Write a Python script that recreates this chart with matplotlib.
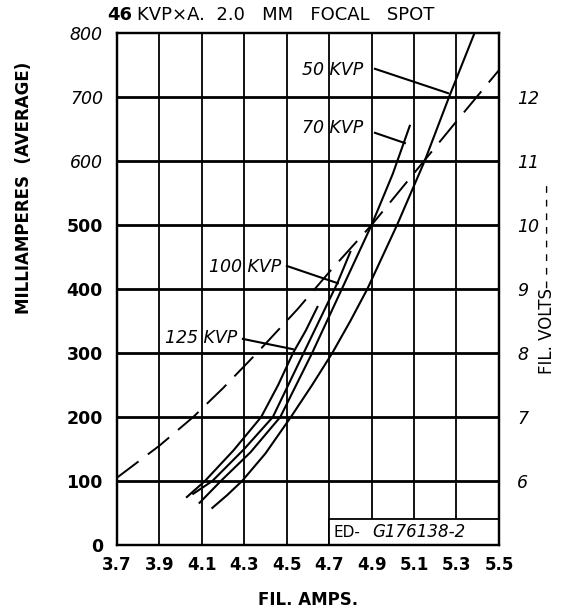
import numpy as np
import matplotlib.pyplot as plt
from matplotlib.patches import Rectangle

# x ticks (filament amps) and y ticks (mA)
amp_ticks = [3.7, 3.9, 4.1, 4.3, 4.5, 4.7, 4.9, 5.1, 5.3, 5.5]
amp_labels = ['3.7', '3.9', '4.1', '4.3', '4.5', '4.7', '4.9', '5.1', '5.3', '5.5']
ma_ticks = [0, 100, 200, 300, 400, 500, 600, 700, 800]
volt_ticks = [6, 7, 8, 9, 10, 11, 12]

# solid curves: mA vs fil. amps
kvp50_amps = [4.15, 4.22, 4.29, 4.40, 4.52, 4.62, 4.715, 4.80, 4.88, 4.95, 5.02, 5.15, 5.265, 5.385]
kvp50_ma = [58, 78, 100, 143, 200, 250, 300, 350, 400, 450, 500, 600, 700, 800]
kvp70_amps = [4.09, 4.19, 4.33, 4.47, 4.62, 4.76, 4.90, 5.00, 5.08]
kvp70_ma = [66, 100, 145, 200, 300, 400, 500, 580, 655]
kvp100_amps = [4.06, 4.15, 4.30, 4.435, 4.58, 4.66, 4.74, 4.80]
kvp100_ma = [80, 100, 150, 200, 300, 355, 410, 458]
kvp125_amps = [4.03, 4.115, 4.25, 4.38, 4.46, 4.53, 4.59, 4.645]
kvp125_ma = [75, 100, 148, 200, 250, 300, 335, 372]

# dashed curve: fil. volts vs fil. amps
volt_amps = [3.7, 3.9, 4.06, 4.2, 4.36, 4.55, 4.71, 4.9, 5.11, 5.3, 5.5]
fil_volts = [6.05, 6.55, 7.0, 7.45, 8.0, 8.68, 9.3, 10.0, 10.85, 11.62, 12.42]

fig = plt.figure(figsize=(5.67, 6.11), dpi=100)
ax = fig.add_axes([0.206, 0.108, 0.674, 0.838])
ax.set_xlim(3.7, 5.5)
ax.set_ylim(0, 800)

# grid
ax.hlines(ma_ticks[1:-1], 3.7, 5.5, color='black', lw=2.0, zorder=1)
ax.vlines(amp_ticks[1:-1], 0, 800, color='black', lw=1.3, zorder=1)
for s in ax.spines.values():
    s.set_linewidth(1.6)

# stamp box
ax.add_patch(Rectangle((4.7, 0), 0.8, 40, facecolor='white', edgecolor='black', lw=1.3, zorder=2))
ax.text(4.72, 20, 'ED-', fontsize=11, va='center', ha='left', zorder=3)
ax.text(4.905, 20, 'G176138-2', fontsize=12, style='italic', va='center', ha='left', zorder=3)

for a, m in [(kvp50_amps, kvp50_ma), (kvp70_amps, kvp70_ma),
             (kvp100_amps, kvp100_ma), (kvp125_amps, kvp125_ma)]:
    ax.plot(a, m, color='black', lw=1.5, zorder=4)

# labels with leader lines
labels = [('50 KVP', (4.718, 742), (4.916, 744), (5.26, 706)),
          ('70 KVP', (4.718, 652), (4.916, 644), (5.057, 628)),
          ('100 KVP', (4.303, 434), (4.501, 436), (4.741, 409)),
          ('125 KVP', (4.096, 323), (4.294, 322), (4.529, 306))]
for txt, pos, p0, p1 in labels:
    ax.text(pos[0], pos[1], txt, fontsize=12.5, style='italic', ha='center', va='center', zorder=5)
    ax.plot([p0[0], p1[0]], [p0[1], p1[1]], color='black', lw=1.5, zorder=4)

ax.set_xticks(amp_ticks)
ax.set_xticklabels(amp_labels, fontsize=12, fontweight='bold')
ax.set_yticks(ma_ticks)
ax.set_yticklabels([str(v) for v in ma_ticks], fontsize=12.5)
for lab in ax.get_yticklabels():
    if lab.get_text() in ('600', '700', '800'):
        lab.set_style('italic')
    else:
        lab.set_fontweight('bold')
ax.tick_params(length=0)
ax.tick_params(axis='x', pad=8)
ax.tick_params(axis='y', pad=10)

ax2 = ax.twinx()
ax2.set_ylim(5, 13)
ax2.plot(volt_amps, fil_volts, color='black', lw=1.4, dashes=(14, 6), zorder=3)
ax2.set_yticks(volt_ticks)
ax2.set_yticklabels([str(v) for v in volt_ticks], fontsize=12.5, style='italic')
ax2.tick_params(length=0, pad=13)
for s in ax2.spines.values():
    s.set_linewidth(1.6)

fig.text(24 / 567, 1 - 188 / 611, 'MILLIAMPERES  (AVERAGE)', rotation=90, fontsize=12,
         fontweight='bold', ha='center', va='center')
fig.text(547 / 567, 1 - 279 / 611, 'FIL. VOLTS\u2013 \u2013 \u2013 \u2013 \u2013 \u2013 \u2013 \u2013',
         rotation=90, fontsize=12, ha='center', va='center')
fig.text(308 / 567, 1 - 600 / 611, 'FIL. AMPS.', fontsize=12, fontweight='bold',
         ha='center', va='center')
fig.text(107 / 567, 1 - 15 / 611, '46', fontsize=13, fontweight='bold', ha='left', va='center')
fig.text(137 / 567, 1 - 15 / 611, 'KVP\u00d7A.  2.0   MM   FOCAL   SPOT', fontsize=13,
         ha='left', va='center')

fig.savefig('out.png', dpi=100)
